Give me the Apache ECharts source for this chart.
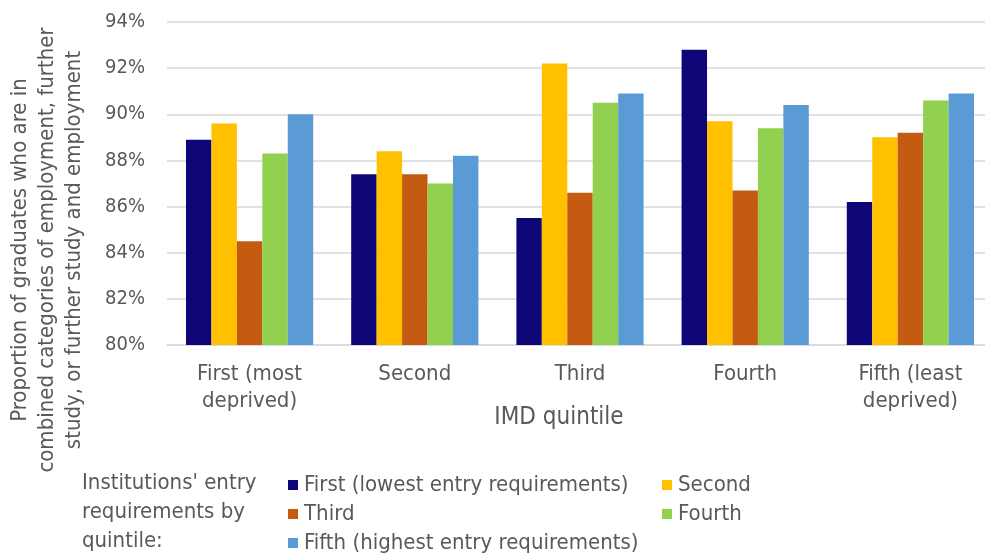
<!DOCTYPE html>
<html>
<head>
<meta charset="utf-8">
<script src="https://cdn.jsdelivr.net/npm/echarts@6/dist/echarts.min.js"></script>
<style>
  html, body { margin: 0; padding: 0; background: #fff; }
  #chart { width: 985px; height: 555px; }
</style>
</head>
<body>
<div id="chart"></div>
<script>
// IMD quintile groups along the x axis
const categories = ['First (most\ndeprived)', 'Second', 'Third', 'Fourth', 'Fifth (least\ndeprived)'];

// Entry-requirement quintile series names
const seriesNames = [
  'First (lowest entry requirements)',
  'Second',
  'Third',
  'Fourth',
  'Fifth (highest entry requirements)'
];

// Proportion (%) per entry-requirement quintile, one value per IMD quintile
const firstEntry  = [88.9, 87.4, 85.5, 92.8, 86.2];
const secondEntry = [89.6, 88.4, 92.2, 89.7, 89.0];
const thirdEntry  = [84.5, 87.4, 86.6, 86.7, 89.2];
const fourthEntry = [88.3, 87.0, 90.5, 89.4, 90.6];
const fifthEntry  = [90.0, 88.2, 90.9, 90.4, 90.9];

// Y axis ticks
const yMin = 80, yMax = 94, yStep = 2;

const colors = ['#0E0677', '#FFC000', '#C55A11', '#92D050', '#5B9BD5'];
const values = [firstEntry, secondEntry, thirdEntry, fourthEntry, fifthEntry];
const textColor = '#595959';
const font = 'DejaVu Sans Condensed';

const chart = echarts.init(document.getElementById('chart'));

// one legend box per entry, laid out in two columns
const legendPos = [
  { left: 283, top: 469 },
  { left: 657, top: 469 },
  { left: 283, top: 498 },
  { left: 657, top: 498 },
  { left: 283, top: 527 }
];

chart.setOption({
  animation: false,
  color: colors,
  textStyle: { fontFamily: font },
  grid: {
    left: 167, width: 826, top: 22, height: 323,
    containLabel: false, outerBoundsMode: 'none'
  },
  xAxis: {
    type: 'category',
    data: categories,
    axisLine: { lineStyle: { color: '#D9D9D9', width: 1.5 } },
    axisTick: { show: false },
    axisLabel: { color: textColor, fontSize: 22, fontFamily: font, margin: 16, lineHeight: 27 }
  },
  yAxis: {
    type: 'value',
    min: yMin, max: yMax, interval: yStep,
    axisLine: { show: false },
    axisTick: { show: false },
    splitLine: { lineStyle: { color: '#D9D9D9', width: 1.5 } },
    axisLabel: { color: textColor, fontSize: 20, fontFamily: font, margin: 22, formatter: '{value}%' }
  },
  legend: seriesNames.map((name, i) => ({
    data: [name],
    left: legendPos[i].left,
    top: legendPos[i].top,
    orient: 'horizontal',
    itemWidth: 10, itemHeight: 10, itemGap: 0,
    icon: 'rect',
    textStyle: { color: textColor, fontSize: 22, fontFamily: font, padding: [0, 0, 0, 1] },
    selectedMode: false
  })),
  graphic: [
    {
      type: 'text',
      left: 82, top: 469,
      style: {
        text: "Institutions' entry\nrequirements by\nquintile:",
        fill: textColor, font: '22px "' + font + '"', lineHeight: 29
      }
    },
    {
      type: 'text',
      x: 559, y: 418,
      style: {
        text: 'IMD quintile', fill: textColor, font: '24px "' + font + '"',
        align: 'center', verticalAlign: 'middle'
      }
    },
    {
      type: 'text',
      x: 47, y: 250,
      rotation: Math.PI / 2,
      style: {
        text: 'Proportion of graduates who are in\ncombined categories of employment, further\nstudy, or further study and employment',
        fill: textColor, font: '22px "' + font + '"', lineHeight: 27,
        align: 'center', verticalAlign: 'middle'
      }
    }
  ],
  series: seriesNames.map((name, i) => ({
    name: name,
    type: 'bar',
    data: values[i],
    barGap: '0%',
    barCategoryGap: '23%',
    itemStyle: { color: colors[i] }
  }))
});
</script>
</body>
</html>
